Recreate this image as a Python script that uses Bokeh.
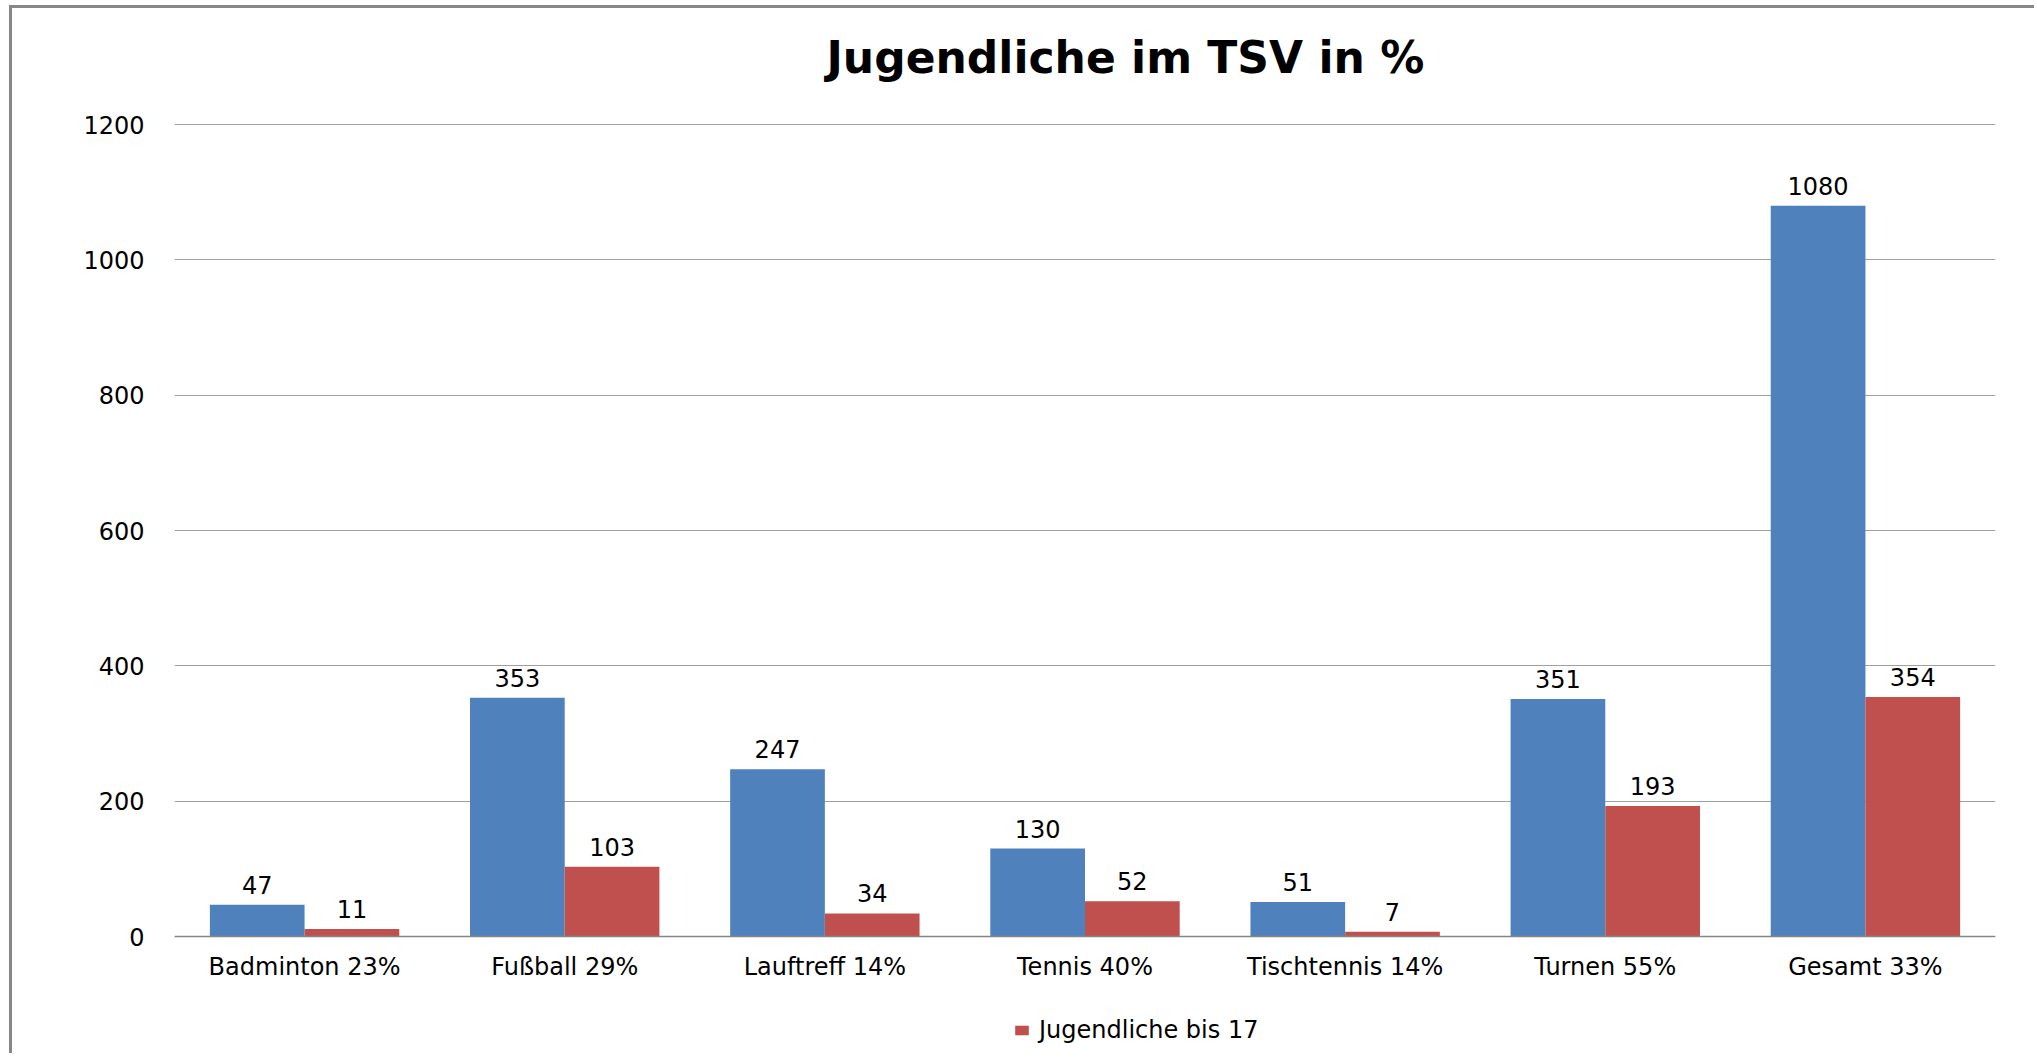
from bokeh.plotting import figure
from bokeh.models import (ColumnDataSource, FactorRange, Range1d, FixedTicker,
                          Legend, LegendItem, Title)
from bokeh.transform import dodge
from bokeh.core.properties import value
from bokeh.embed import file_html
from bokeh.resources import INLINE

# ---- data ----
categories = ["Badminton 23%", "Fußball 29%", "Lauftreff 14%", "Tennis 40%",
              "Tischtennis 14%", "Turnen 55%", "Gesamt 33%"]
mitglieder = [47, 353, 247, 130, 51, 351, 1080]
jugendliche = [11, 103, 34, 52, 7, 193, 354]
y_ticks = [0, 200, 400, 600, 800, 1000, 1200]
title_text = "Jugendliche im TSV in %"
legend_text = "Jugendliche bis 17"

BLUE = "#4F81BD"
RED = "#C0504D"
FONT = "DejaVu Sans"
FS = "24px"

# ---- layout (pixels) ----
CANVAS_W, CANVAS_H = 2025, 1048
FRAME_L, FRAME_R = 162, 1983
FRAME_T, FRAME_B = 114, 1040
Y0_PX, Y1200_PX = 928, 116          # canvas rows of value 0 and 1200
px_per_unit = (Y0_PX - Y1200_PX) / 1200.0
y_start = -(FRAME_B - Y0_PX) / px_per_unit
y_end = 1200 + (Y1200_PX - FRAME_T) / px_per_unit

src = ColumnDataSource(dict(
    cat=categories,
    m=mitglieder,
    j=jugendliche,
    m_txt=[str(v) for v in mitglieder],
    j_txt=[str(v) for v in jugendliche],
))

p = figure(
    x_range=FactorRange(factors=categories, range_padding=0),
    y_range=Range1d(y_start, y_end),
    width=CANVAS_W, height=CANVAS_H,
    output_backend="svg", toolbar_location=None,
    min_border_left=FRAME_L, min_border_right=CANVAS_W - FRAME_R,
    min_border_top=FRAME_T, min_border_bottom=CANVAS_H - FRAME_B,
)
p.styles = {"border-left": "3px solid #878787", "border-top": "3px solid #878787",
            "margin-left": "9px", "margin-top": "5px"}
p.background_fill_color = "white"
p.border_fill_color = "white"
p.outline_line_color = None

has_standoff = "standoff" in Title.properties()

spacer = Title(text=" ", text_font_size="29px", text_font=FONT)
if has_standoff:
    spacer.standoff = 0
p.add_layout(spacer, "above")

t = Title(text=title_text, align="left", offset=652,
          text_font=FONT, text_font_style="bold", text_font_size="44px",
          text_color="black")
if has_standoff:
    t.standoff = 8
p.add_layout(t, "above")

# axes
p.yaxis.ticker = FixedTicker(ticks=y_ticks)
p.yaxis.axis_line_color = None
p.yaxis.major_tick_line_color = None
p.yaxis.minor_tick_line_color = None
p.yaxis.major_tick_out = 0
p.yaxis.major_tick_in = 0
p.yaxis.major_label_standoff = 30
p.yaxis.major_label_text_font = FONT
p.yaxis.major_label_text_font_size = FS
p.yaxis.major_label_text_color = "black"

p.xaxis.fixed_location = 0
p.xaxis.axis_line_color = "#868686"
p.xaxis.axis_line_width = 1.5
p.xaxis.major_tick_line_color = None
p.xaxis.minor_tick_line_color = None
p.xaxis.major_tick_out = 0
p.xaxis.major_tick_in = 0
p.xaxis.major_label_standoff = 16
p.xaxis.major_label_text_font = FONT
p.xaxis.major_label_text_font_size = FS
p.xaxis.major_label_text_color = "black"

p.xgrid.grid_line_color = None
p.ygrid.ticker = FixedTicker(ticks=y_ticks)
p.ygrid.grid_line_color = "#A0A0A0"
p.ygrid.grid_line_width = 1.2

off = 0.182
w = 0.364
rb = p.vbar(x=dodge("cat", -off, range=p.x_range), top="m", width=w, source=src,
            fill_color=BLUE, line_color=None)
rr = p.vbar(x=dodge("cat", off, range=p.x_range), top="j", width=w, source=src,
            fill_color=RED, line_color=None)

for col, txt, d in (("m", "m_txt", -off), ("j", "j_txt", off)):
    p.text(x=dodge("cat", d, range=p.x_range), y=col, text=txt, source=src,
           text_align="center", text_baseline="alphabetic", y_offset=-20,
           text_font=value(FONT), text_font_size=FS, text_color="black")

legend = Legend(
    items=[LegendItem(label=legend_text, renderers=[rr])],
    location=(839, 4), orientation="horizontal",
    border_line_color=None, background_fill_alpha=0,
    padding=0, margin=0, spacing=0,
    glyph_width=17, glyph_height=12, label_standoff=9, label_height=26,
    label_text_font=FONT, label_text_font_size=FS, label_text_color="black",
)
p.add_layout(legend)

open("out.html", "w").write(file_html(p, INLINE))
